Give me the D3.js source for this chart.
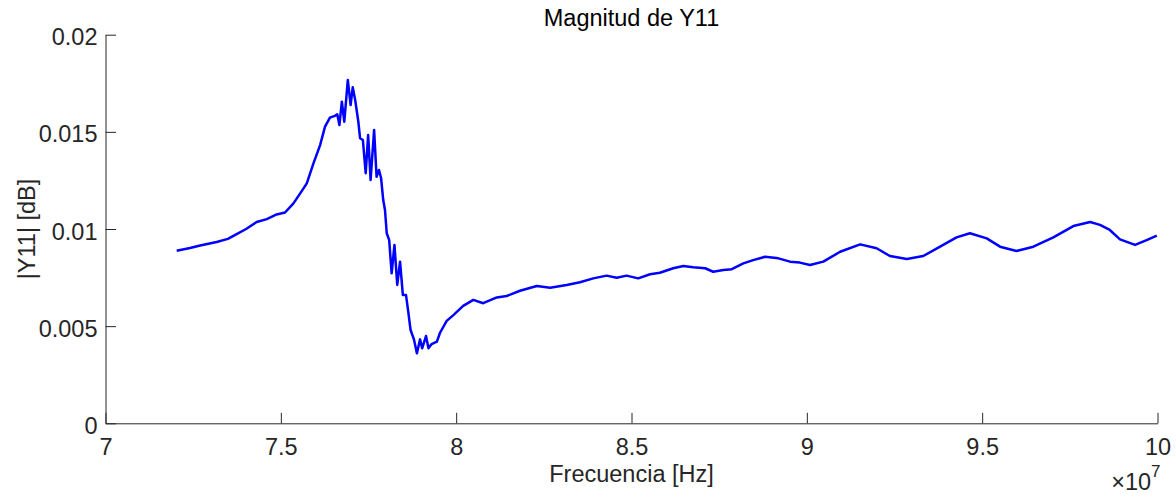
<!DOCTYPE html>
<html>
<head>
<meta charset="utf-8">
<script src="https://cdn.jsdelivr.net/npm/d3@7"></script>
<style>
  body { margin: 0; background: #fff; }
  text { font-family: "Liberation Sans", Arial, Helvetica, sans-serif; fill: #262626; }
</style>
</head>
<body>
<div id="chart"></div>
<script>
// frequency in units of 1e7 Hz, magnitude |Y11|
var freq = [7.203, 7.241, 7.270, 7.317, 7.349, 7.374, 7.401, 7.431, 7.460, 7.488,
  7.512, 7.536, 7.560, 7.574, 7.593, 7.612, 7.626, 7.640, 7.654, 7.661,
  7.667, 7.674, 7.681, 7.691, 7.699, 7.705, 7.712, 7.721, 7.726, 7.734,
  7.742, 7.749, 7.756, 7.766, 7.773, 7.780, 7.786, 7.792, 7.797, 7.802,
  7.809, 7.816, 7.824, 7.832, 7.840, 7.848, 7.857, 7.864, 7.870, 7.880,
  7.888, 7.897, 7.903, 7.914, 7.921, 7.930, 7.945, 7.954, 7.973, 7.992,
  8.020, 8.049, 8.077, 8.116, 8.144, 8.182, 8.230, 8.268, 8.315, 8.353,
  8.391, 8.429, 8.458, 8.486, 8.519, 8.553, 8.581, 8.619, 8.648, 8.676,
  8.710, 8.733, 8.762, 8.786, 8.819, 8.847, 8.881, 8.919, 8.952, 8.980,
  9.009, 9.047, 9.095, 9.152, 9.199, 9.237, 9.285, 9.332, 9.380, 9.427,
  9.465, 9.513, 9.551, 9.598, 9.646, 9.703, 9.760, 9.808, 9.836, 9.864,
  9.893, 9.936, 9.969, 9.998]

var mag = [0.00888, 0.00902, 0.00915, 0.00933, 0.00949, 0.00974, 0.01000, 0.01036, 0.01051, 0.01075,
  0.01085, 0.01132, 0.01196, 0.01235, 0.01338, 0.01432, 0.01527, 0.01573, 0.01582, 0.01590,
  0.01535, 0.01655, 0.01552, 0.01767, 0.01638, 0.01729, 0.01664, 0.01552, 0.01467, 0.01458,
  0.01287, 0.01484, 0.01252, 0.01510, 0.01269, 0.01304, 0.01261, 0.01149, 0.01098, 0.00978,
  0.00943, 0.00772, 0.00918, 0.00712, 0.00832, 0.00660, 0.00660, 0.00566, 0.00480, 0.00429,
  0.00360, 0.00432, 0.00386, 0.00449, 0.00386, 0.00408, 0.00420, 0.00466, 0.00527, 0.00557,
  0.00604, 0.00635, 0.00618, 0.00648, 0.00655, 0.00682, 0.00707, 0.00698, 0.00712, 0.00726,
  0.00746, 0.00760, 0.00749, 0.00760, 0.00746, 0.00767, 0.00775, 0.00798, 0.00810, 0.00803,
  0.00798, 0.00780, 0.00789, 0.00793, 0.00823, 0.00840, 0.00857, 0.00849, 0.00832, 0.00827,
  0.00815, 0.00832, 0.00883, 0.00921, 0.00901, 0.00861, 0.00846, 0.00861, 0.00909, 0.00957,
  0.00978, 0.00952, 0.00909, 0.00887, 0.00909, 0.00957, 0.01015, 0.01036, 0.01021, 0.00995,
  0.00947, 0.00918, 0.00943, 0.00966]

var xTicks = [7, 7.5, 8, 8.5, 9, 9.5, 10]
var yTicks = [0, 0.005, 0.01, 0.015, 0.02]

var W = 1176, H = 498
var margin = {top: 34.7, right: 18.5, bottom: 74.7, left: 105.5},
    width = W - margin.left - margin.right,
    height = H - margin.top - margin.bottom;

var FS = '23.5px'

var x = d3.scaleLinear().domain([7, 10]).range([0, width]);
var y = d3.scaleLinear().domain([0, 0.02]).range([height, 0]);

var svg = d3.select('#chart')
  .append('svg')
  .attr('width', W)
  .attr('height', H)
  .append('g')
  .attr('transform', 'translate(' + margin.left + ',' + margin.top + ')');

// x axis, ticks pointing inward like matlab
var xAxis = svg.append('g')
  .attr('transform', 'translate(0,' + height + ')')
  .call(d3.axisBottom(x).tickValues(xTicks).tickSizeInner(-10.5).tickSizeOuter(0)
    .tickFormat(function(d) { return d3.format('')(d); }));
xAxis.selectAll('text')
  .attr('y', 32)
  .attr('dy', 0)
  .style('font-size', FS);

// y axis
var yAxis = svg.append('g')
  .call(d3.axisLeft(y).tickValues(yTicks).tickSizeInner(-10.5).tickSizeOuter(0)
    .tickFormat(function(d) { return d === 0 ? '0' : d3.format('')(d); }));
yAxis.selectAll('text')
  .attr('x', -8)
  .attr('dy', 10)
  .style('font-size', FS);

svg.selectAll('.domain, .tick line')
  .attr('stroke', '#262626')
  .attr('stroke-width', 1);

var data = freq.map(function(f, i) { return {f: f, v: mag[i]}; });

svg.append('path')
  .datum(data)
  .attr('fill', 'none')
  .attr('stroke', '#0000ff')
  .attr('stroke-width', 2.5)
  .attr('stroke-linejoin', 'round')
  .attr('d', d3.line()
    .x(function(d) { return x(d.f); })
    .y(function(d) { return y(d.v); }));

// title
svg.append('text')
  .attr('x', width / 2)
  .attr('y', -8.5)
  .style('text-anchor', 'middle')
  .style('font-size', '23.5px')
  .style('fill', '#000')
  .text('Magnitud de Y11');

// axis titles
svg.append('text')
  .attr('x', width / 2)
  .attr('y', height + 59)
  .style('text-anchor', 'middle')
  .style('font-size', FS)
  .text('Frecuencia [Hz]');

svg.append('text')
  .attr('transform', 'rotate(-90)')
  .attr('x', -height / 2)
  .attr('y', -71)
  .style('text-anchor', 'middle')
  .style('font-size', FS)
  .text('|Y11| [dB]');

// exponent label
var expo = svg.append('text')
  .attr('x', width + 3)
  .attr('y', height + 67)
  .style('text-anchor', 'end')
  .style('font-size', FS);
expo.append('tspan').text('\u00d710');
expo.append('tspan').attr('dy', -13).style('font-size', '17px').text('7');
</script>
</body>
</html>
